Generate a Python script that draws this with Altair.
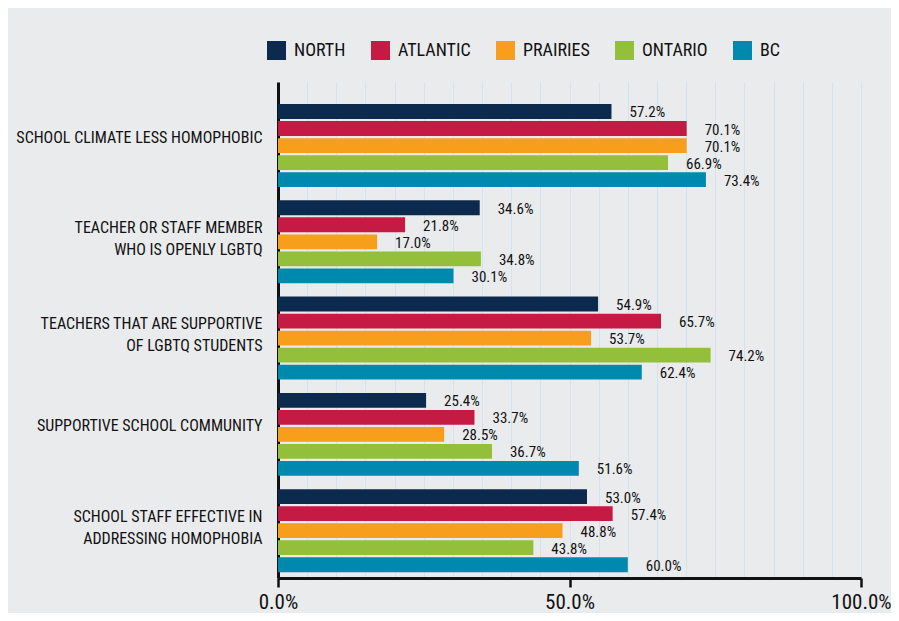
import altair as alt
import pandas as pd

categories = [
    "SCHOOL CLIMATE LESS HOMOPHOBIC",
    "TEACHER OR STAFF MEMBER|WHO IS OPENLY LGBTQ",
    "TEACHERS THAT ARE SUPPORTIVE|OF LGBTQ STUDENTS",
    "SUPPORTIVE SCHOOL COMMUNITY",
    "SCHOOL STAFF EFFECTIVE IN|ADDRESSING HOMOPHOBIA",
]
regions = ["NORTH", "ATLANTIC", "PRAIRIES", "ONTARIO", "BC"]
colors = ["#0c2a4e", "#c41a44", "#f89e1d", "#93bf3a", "#0089ae"]

north = [57.2, 34.6, 54.9, 25.4, 53.0]
atlantic = [70.1, 21.8, 65.7, 33.7, 57.4]
prairies = [70.1, 17.0, 53.7, 28.5, 48.8]
ontario = [66.9, 34.8, 74.2, 36.7, 43.8]
bc = [73.4, 30.1, 62.4, 51.6, 60.0]

series = dict(zip(regions, [north, atlantic, prairies, ontario, bc]))
rows = []
for r in regions:
    for c, v in zip(categories, series[r]):
        rows.append({"category": c, "region": r, "value": v, "label": f"{v:.1f}%"})
df = pd.DataFrame(rows)

FONT = "Roboto Condensed, DejaVu Sans"

y = alt.Y(
    "category:N",
    sort=categories,
    scale=alt.Scale(paddingInner=0.138, paddingOuter=0.145, align=0.79),
    axis=alt.Axis(
        title=None,
        domain=True,
        domainColor="#111111",
        domainWidth=3,
        ticks=False,
        labelExpr="split(datum.label, '|')",
        labelFont=FONT,
        labelFontSize=16,
        labelColor="#111111",
        labelPadding=16,
        labelLineHeight=22,
        labelOffset={"condition": {"test": "indexof(datum.label, '|') >= 0", "value": -14}, "value": -8},
        labelLimit=0,
    ),
)
yoff = alt.YOffset("region:N", sort=regions, scale=alt.Scale(paddingInner=0.13, paddingOuter=0))
x = alt.X(
    "value:Q",
    scale=alt.Scale(domain=[0, 100], nice=False),
    axis=alt.Axis(
        title=None,
        values=list(range(0, 101, 5)),
        grid=True,
        gridColor="#d3e2ec",
        gridWidth=1,
        domainColor="#111111",
        domainWidth=3,
        tickColor="#111111",
        tickWidth=2.5,
        tickSize=9,
        tickOpacity={"condition": {"test": "datum.value % 50 === 0", "value": 1}, "value": 0},
        labelExpr="datum.value % 50 === 0 ? format(datum.value, '.1f') + '%' : ''",
        labelFont=FONT,
        labelFontSize=21,
        labelColor="#111111",
        labelPadding=4,
        labelFlush=False,
        labelOverlap=False,
    ),
)
color = alt.Color(
    "region:N",
    sort=regions,
    scale=alt.Scale(domain=regions, range=colors),
    legend=alt.Legend(
        title=None,
        orient="none",
        legendX=-11,
        legendY=-41,
        direction="horizontal",
        symbolType="square",
        symbolSize=361,
        symbolStrokeWidth=0,
        symbolOpacity=1,
        labelFont=FONT,
        labelFontSize=18,
        labelColor="#111111",
        labelOffset=8,
        columnPadding=25,
        padding=0,
    ),
)

base = alt.Chart(df).encode(x=x, y=y, yOffset=yoff)
bars = base.mark_bar().encode(color=color)
text = base.mark_text(
    align="left", baseline="middle", dx=18, dy=1, font=FONT, fontSize=15, color="#111111"
).encode(text="label:N")

chart = (
    alt.layer(bars, text)
    .properties(
        width=583,
        height=496,
        background="#eaebed",
        padding={"left": 270, "top": 74, "right": 30, "bottom": 35},
        autosize=alt.AutoSizeParams(type="none"),
    )
    .configure_view(stroke=None)
)

chart.save("out.html", embed_options={"renderer": "svg", "actions": False})
